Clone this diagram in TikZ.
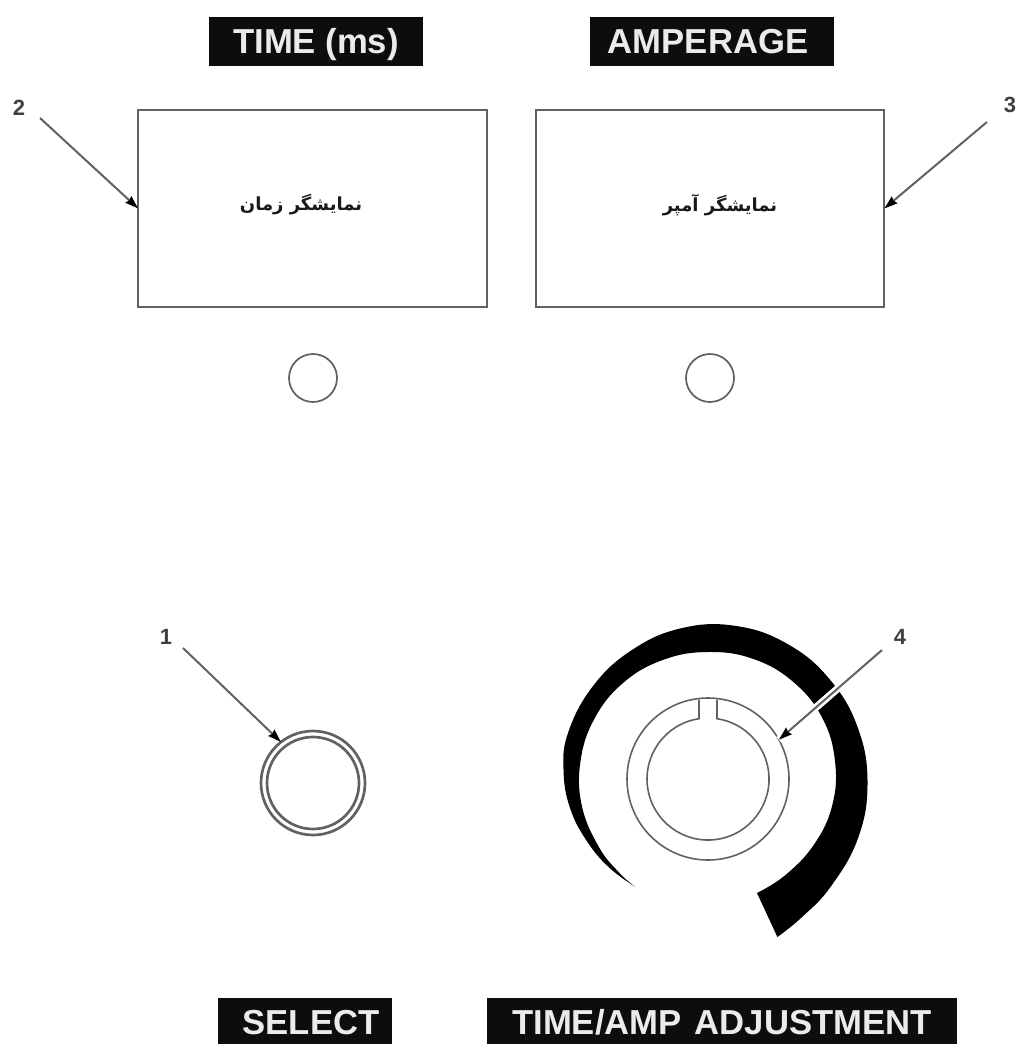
\documentclass[tikz,border=0pt]{standalone}
\usepackage{fontspec}
\setmainfont{Liberation Sans}
\newfontfamily\arabicfont[Script=Arabic]{DejaVu Sans}
\TeXXeTstate=1
\usetikzlibrary{arrows.meta}
\definecolor{linegray}{gray}{0.38}
\definecolor{ink}{gray}{0.05}
\tikzset{
  x=0.75pt,y=-0.75pt,
  screenbox/.style={draw=linegray,line width=1.6pt,inner sep=0pt,outer sep=0pt,minimum width=261.5pt,minimum height=147.75pt},
  lamp/.style={circle,draw=linegray,line width=1.3pt,inner sep=0pt,outer sep=0pt,minimum size=36pt},
  ringline/.style={draw=linegray,line width=1.2pt},
  selring/.style={circle,draw=linegray,line width=2pt,inner sep=0pt,outer sep=0pt},
  plate/.style={fill=ink,text=white!92!black,inner sep=0pt,outer sep=0pt,text height=18.6pt,text depth=0pt,font=\bfseries\fontsize{26pt}{27pt}\selectfont},
  callout/.style={text=black!75,inner sep=0pt,font=\bfseries\fontsize{16.5pt}{17pt}\selectfont},
  farsi/.style={inner sep=0pt,text=black!90,font=\arabicfont\bfseries\fontsize{13.5pt}{15pt}\selectfont},
  leader/.style={draw=linegray,line width=1.5pt,-{Stealth[length=10pt,width=6.5pt,inset=1pt,black]}},
}
\begin{document}
\begin{tikzpicture}
\useasboundingbox (0,0) rectangle (1017,1044);
\begin{scope}
\clip (0,0) rectangle (1017,1044);
% name plates
\node[plate,minimum width=160.5pt,minimum height=36.75pt] (ptime) at (316,41.5) {TIME (ms)};
\node[plate,minimum width=183pt,minimum height=36.75pt] (pamp) at (712,41.5) {\hspace*{-6pt}AMPERAGE};
\node[plate,minimum width=130.5pt,minimum height=36pt] (psel) at (305,1022) {\hspace*{9pt}SELECT};
\node[plate,minimum width=352.5pt,minimum height=36pt] (padj) at (722,1022) {TIME/AMP\hspace{0.1em} ADJUSTMENT};
\end{scope}
% displays
\node[screenbox] (box1) at (312.5,208.5) {};
\node[screenbox] (box2) at (710,208.5) {};
\node[farsi] (t1) at (301,205) {\beginR نمایشگر زمان\endR};
\node[farsi] (t2) at (720,205) {\beginR نمایشگر آمپر\endR};
% lamps
\node[lamp] (lamp1) at (313,378) {};
\node[lamp] (lamp2) at (710,378) {};
% select button
\node[selring,minimum size=78pt] (sel) at (313,783) {};
\node[selring,minimum size=69pt] (seli) at (313,783) {};
% scale arc
\begin{scope}[shift={(708,784)},x=0.75pt,y=0.75pt]
\fill[black] plot[smooth,tension=0.7] coordinates {(-65.6:168) (-55:163) (-40:160) (-20:159.5) (0:159.5) (20:160) (40:160.5) (60:161) (80:160.5) (100:158) (120:154) (140:151) (160:149) (175:145) (190:140) (205:134) (220:129.5) (234.7:126)}
 -- plot[smooth,tension=0.7] coordinates {(234.7:126) (225:125.5) (210:126) (190:128) (170:129.5) (150:131) (130:132) (110:132) (90:132) (70:133) (50:133) (30:132) (10:129) (-10:126) (-30:122) (-50:119.5) (-65.8:119.5)} -- cycle;
\end{scope}
% knob
\node[circle,ringline,inner sep=0pt,outer sep=0pt,minimum size=121.5pt] (knob) at (708,779) {};
\coordinate (notchL) at (699,699.5);
\coordinate (notchR) at (717,699.5);
\draw[ringline] (notchL) -- (699,718.7) arc[start angle=98.5,end angle=441.5,radius=45.75pt] -- (notchR);
% leader lines
\coordinate (a1) at (183,648);
\coordinate (a2) at (40,118);
\coordinate (a3) at (987,122);
\coordinate (a4) at (882,650);
\draw[leader] (a1) -- (sel.128);
\draw[leader] (a2) -- (box1.west);
\draw[leader] (a3) -- (box2.east);
\draw[white,line width=5.5pt] (a4) -- (knob.29);
\draw[leader] (a4) -- (knob.29);
% callouts
\node[callout] (n1) at (166,637) {1};
\node[callout] (n2) at (19,108) {2};
\node[callout] (n3) at (1010,105) {3};
\node[callout] (n4) at (900,637) {4};
\end{tikzpicture}
\end{document}
